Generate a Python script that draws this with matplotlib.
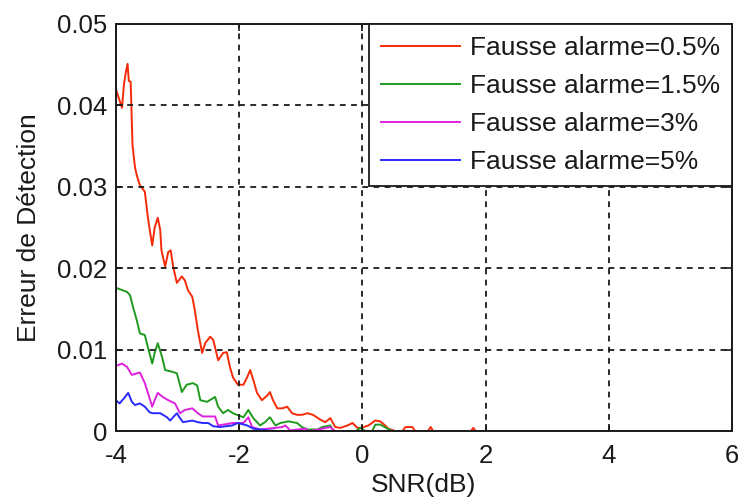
import matplotlib
matplotlib.use("Agg")
import matplotlib.pyplot as plt

plt.rcParams['font.family'] = ['Liberation Sans', 'DejaVu Sans']

# Detection error vs SNR for several false-alarm rates
snr_05 = [-4.00, -3.935, -3.90, -3.87, -3.84, -3.81, -3.79, -3.76, -3.745, -3.73,
          -3.69, -3.66, -3.61, -3.53, -3.48, -3.45, -3.41, -3.37, -3.32, -3.28,
          -3.26, -3.20, -3.15, -3.11, -3.07, -3.01, -2.93, -2.88, -2.83, -2.76,
          -2.72, -2.67, -2.60, -2.55, -2.47, -2.42, -2.34, -2.26, -2.20, -2.15,
          -2.10, -2.02, -1.93, -1.87, -1.82, -1.77, -1.71, -1.63, -1.54, -1.50,
          -1.45, -1.38, -1.30, -1.22, -1.14, -1.06, -0.98, -0.89, -0.80, -0.68,
          -0.60, -0.52, -0.44, -0.36, -0.24, -0.16, -0.08, -0.03, 0.02, 0.10,
          0.21, 0.29, 0.37, 0.42, 0.54, 0.65, 0.70, 0.81, 0.86, 1.06,
          1.11, 1.15, 1.76, 1.80, 1.84, 6.00]
err_05 = [0.0420, 0.0405, 0.0397, 0.0425, 0.0440, 0.0451, 0.0430, 0.0429, 0.0390, 0.0351,
          0.0324, 0.0314, 0.0302, 0.0294, 0.0262, 0.0247, 0.0228, 0.0250, 0.0262, 0.0247,
          0.0222, 0.0202, 0.0220, 0.0222, 0.0202, 0.0182, 0.0190, 0.0185, 0.0173, 0.0165,
          0.0149, 0.0124, 0.0096, 0.0108, 0.0116, 0.0112, 0.0087, 0.0096, 0.0097, 0.0079,
          0.0066, 0.0057, 0.0057, 0.0066, 0.0075, 0.0063, 0.0047, 0.0038, 0.0044, 0.0048,
          0.0038, 0.0028, 0.0028, 0.0030, 0.0022, 0.0020, 0.0020, 0.0022, 0.0020, 0.0014,
          0.0011, 0.0016, 0.0005, 0.0004, 0.0007, 0.0010, 0.0004, 0.0004, 0.0005, 0.0007,
          0.0013, 0.0012, 0.0007, 0.0003, 0.0000, 0.0000, 0.0005, 0.0005, 0.0000, 0.0000,
          0.0005, 0.0000, 0.0000, 0.0004, 0.0000, 0.0000]

snr_15 = [-4.00, -3.82, -3.77, -3.72, -3.66, -3.61, -3.53, -3.48, -3.41, -3.37,
          -3.32, -3.25, -3.20, -3.09, -3.01, -2.93, -2.85, -2.75, -2.68, -2.63,
          -2.52, -2.39, -2.34, -2.26, -2.18, -2.10, -1.93, -1.85, -1.77, -1.66,
          -1.58, -1.50, -1.41, -1.33, -1.20, -1.06, -0.98, -0.89, -0.73, -0.65,
          -0.52, -0.47, -0.11, -0.03, 0.05, 0.16, 0.21, 0.29, 0.41, 0.49, 6.00]
err_15 = [0.0176, 0.0171, 0.0167, 0.0152, 0.0136, 0.0120, 0.0118, 0.0103, 0.0083, 0.0096,
          0.0108, 0.0091, 0.0075, 0.0073, 0.0071, 0.0048, 0.0057, 0.0059, 0.0056, 0.0038,
          0.0036, 0.0042, 0.0030, 0.0022, 0.0026, 0.0022, 0.0017, 0.0026, 0.0016, 0.0007,
          0.0011, 0.0017, 0.0007, 0.0010, 0.0012, 0.0010, 0.0005, 0.0002, 0.0002, 0.0005,
          0.0007, 0.0000, 0.0000, 0.0004, 0.0000, 0.0000, 0.0008, 0.0008, 0.0003, 0.0000, 0.0000]

snr_3 = [-4.00, -3.90, -3.82, -3.74, -3.66, -3.61, -3.53, -3.48, -3.41, -3.37,
         -3.32, -3.24, -3.15, -3.04, -2.96, -2.88, -2.76, -2.67, -2.59, -2.39,
         -2.34, -2.10, -1.93, -1.85, -1.79, -1.66, -1.30, -1.25, -1.17, -0.93,
         -0.85, -0.52, -0.44, 6.00]
err_3 = [0.0080, 0.0083, 0.0079, 0.0069, 0.0071, 0.0072, 0.0059, 0.0047, 0.0030, 0.0038,
         0.0047, 0.0042, 0.0038, 0.0034, 0.0022, 0.0026, 0.0028, 0.0022, 0.0018, 0.0018,
         0.0007, 0.0010, 0.0010, 0.0017, 0.0005, 0.0002, 0.0005, 0.0007, 0.0001, 0.0003,
         0.0000, 0.0005, 0.0000, 0.0000]

snr_5 = [-4.00, -3.94, -3.85, -3.80, -3.74, -3.69, -3.61, -3.53, -3.45, -3.40,
         -3.28, -3.17, -3.12, -3.01, -2.96, -2.91, -2.76, -2.67, -2.59, -2.50,
         -2.42, -2.31, -2.11, -2.02, -1.87, -1.77, -1.54, -1.33, 6.00]
err_5 = [0.0038, 0.0034, 0.0042, 0.0047, 0.0036, 0.0032, 0.0034, 0.0030, 0.0023, 0.0022,
         0.0022, 0.0017, 0.0013, 0.0022, 0.0016, 0.0011, 0.0013, 0.0011, 0.0010, 0.0010,
         0.0006, 0.0005, 0.0007, 0.0010, 0.0007, 0.0003, 0.0001, 0.0000, 0.0000]

labels = ['Fausse alarme=0.5%', 'Fausse alarme=1.5%', 'Fausse alarme=3%', 'Fausse alarme=5%']
colors = ['#f72a08', '#1f9a1f', '#dd22dd', '#2a2aff']

x_ticks = [-4, -2, 0, 2, 4, 6]
y_ticks = [0, 0.01, 0.02, 0.03, 0.04, 0.05]
y_ticklabels = ['0', '0.01', '0.02', '0.03', '0.04', '0.05']

fig = plt.figure(figsize=(7.38, 4.99), dpi=100)
ax = fig.add_axes([0.157, 0.136, 0.835, 0.816])

series = [(snr_05, err_05), (snr_15, err_15), (snr_3, err_3), (snr_5, err_5)]
for (x, y), lab, col in zip(series, labels, colors):
    ax.plot(x, y, color=col, lw=1.4, label=lab)

ax.set_xlim(-4, 6)
ax.set_ylim(0, 0.05)
ax.set_xticks(x_ticks)
ax.set_xticklabels([str(t) for t in x_ticks])
ax.set_yticks(y_ticks)
ax.set_yticklabels(y_ticklabels)

ax.grid(True, color='#1a1a1a', linestyle=(0, (3.2, 3.0)), linewidth=1.3)
ax.set_axisbelow(False)

for s in ax.spines.values():
    s.set_linewidth(1.4)
    s.set_color('#1a1a1a')

ax.tick_params(direction='in', length=5, width=1.2, top=True, right=True,
               labelsize=18.5, colors='#1a1a1a')
ax.tick_params(axis='x', pad=9)
ax.tick_params(axis='y', pad=6)

ax.set_xlabel('SNR(dB)', fontsize=19, color='#1a1a1a', labelpad=4)
ax.set_ylabel('Erreur de Détection', fontsize=19, color='#1a1a1a', labelpad=12)

leg = ax.legend(loc='upper right', fontsize=19, frameon=True, fancybox=False,
                borderaxespad=0.0, handlelength=3.0, handletextpad=0.38,
                labelspacing=0.53, borderpad=0.45)
leg.get_frame().set_edgecolor('#1a1a1a')
leg.get_frame().set_linewidth(1.3)
leg.get_frame().set_alpha(1.0)
for t in leg.get_texts():
    t.set_color('#1a1a1a')

fig.savefig('out.png', dpi=100)
